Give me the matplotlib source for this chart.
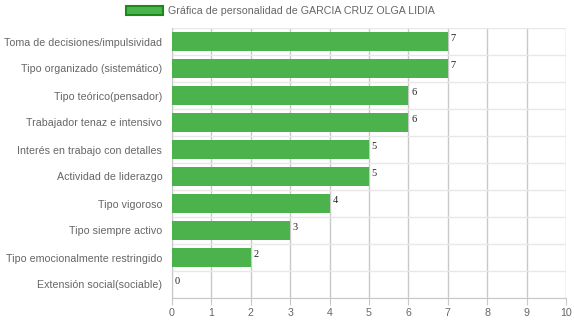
import matplotlib; matplotlib.use('Agg')
import matplotlib.pyplot as plt
from matplotlib.patches import Patch

categories = ["Toma de decisiones/impulsividad", "Tipo organizado (sistemático)", "Tipo teórico(pensador)",
              "Trabajador tenaz e intensivo", "Interés en trabajo con detalles", "Actividad de liderazgo",
              "Tipo vigoroso", "Tipo siempre activo", "Tipo emocionalmente restringido", "Extensión social(sociable)"]
values = [7, 7, 6, 6, 5, 5, 4, 3, 2, 0]
title = "Gráfica de personalidad de GARCIA CRUZ OLGA LIDIA"

plt.rcParams['font.family'] = ['Liberation Sans', 'DejaVu Sans']
fig = plt.figure(figsize=(5.74, 3.23), dpi=100)
ax = fig.add_axes([172/574, 1-298/323, 394/574, 270/323])

ys = list(range(len(categories)))
ax.barh(ys, values, height=0.74, color='#4cb34c', edgecolor='none', zorder=3)
for y, v in zip(ys, values):
    ax.text(v + 0.07, y - 0.12, str(v), fontsize=7.5, family='Liberation Serif', va='center', ha='left', color='#222', zorder=4)

ax.set_xlim(0, 10); ax.set_ylim(len(categories) - 0.5, -0.5)
ax.set_xticks(range(11))
ax.set_yticks(ys); ax.set_yticklabels(categories)
ax.set_yticks([i - 0.5 for i in range(len(categories) + 1)], minor=True)
ax.grid(axis='x', color='#c8c8c8', lw=1, zorder=0)
ax.grid(axis='y', which='minor', color='#e8e8e8', lw=1, zorder=0)
ax.tick_params(axis='x', length=5, color='#c8c8c8', labelsize=7.7, labelcolor='#666', pad=2)
ax.tick_params(axis='y', which='both', length=0, labelsize=7.7, labelcolor='#666', pad=7)
for s in ['top', 'right']: ax.spines[s].set_visible(False)
ax.spines['left'].set_color('#c8c8c8'); ax.spines['bottom'].set_color('#c8c8c8')

leg = fig.legend(handles=[Patch(facecolor='#4cb34c', edgecolor='#1a8a1a', lw=1.5)], labels=[title],
                 loc='upper left', bbox_to_anchor=(116/574, 1.012), frameon=False, fontsize=7.7,
                 handlelength=3.5, handleheight=0.9, handletextpad=0.45, labelcolor='#666')

fig.savefig('out.png', dpi=100)
